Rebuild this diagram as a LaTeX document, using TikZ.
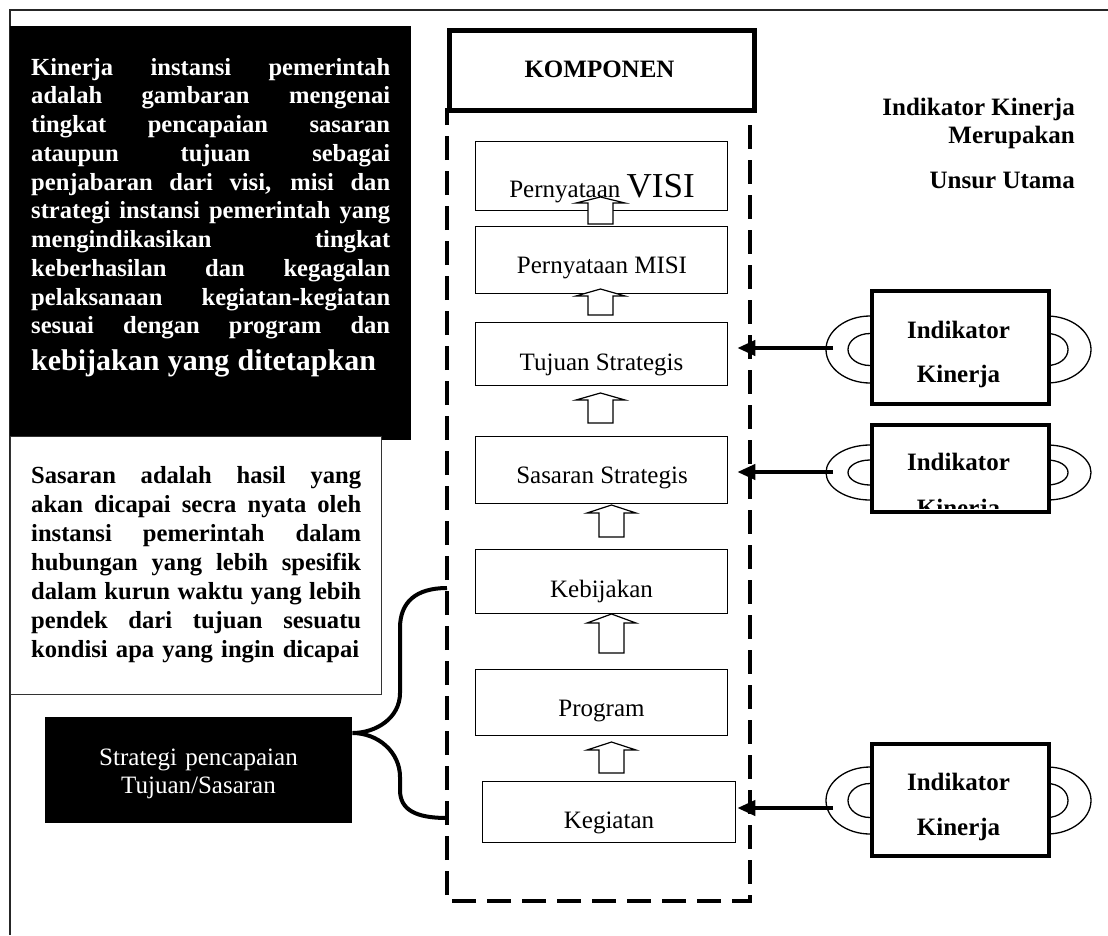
\documentclass[tikz,border=0pt]{standalone}
\usepackage{fontspec}
\setmainfont{Liberation Serif}
\usetikzlibrary{arrows.meta}

% one justified line of a fixed-width paragraph: [width]{words}
\newcommand\jl[2][359pt]{\leavevmode\hbox to #1{\spaceskip=.25em plus 1fil\relax #2}}

% hollow upward block arrow: centre x, tip y, head-base y, bottom y
\newcommand\blockup[4]{%
  \draw[blockarrow] (#1-12.5,#4) -- (#1-12.5,#3) -- (#1-24.5,#3) -- (#1,#2)
    -- (#1+24.5,#3) -- (#1+12.5,#3) -- (#1+12.5,#4) -- cycle;}

% the pair of loop handles on an indicator box:
% left x, right x, centre y, outer half height, inner half height
\newcommand\handlepair[5]{%
  \draw[handle] (#1,#3-#4) .. controls (#1-24,#3-#4) and (#1-44,#3-0.55*#4) .. (#1-44,#3)
     .. controls (#1-44,#3+0.55*#4) and (#1-24,#3+#4) .. (#1,#3+#4);
  \draw[handle] (#1,#3-#5) .. controls (#1-12,#3-#5) and (#1-22,#3-0.55*#5) .. (#1-22,#3)
     .. controls (#1-22,#3+0.55*#5) and (#1-12,#3+#5) .. (#1,#3+#5);
  \draw[handle] (#2,#3-#4) .. controls (#2+24,#3-#4) and (#2+44,#3-0.55*#4) .. (#2+44,#3)
     .. controls (#2+44,#3+0.55*#4) and (#2+24,#3+#4) .. (#2,#3+#4);
  \draw[handle] (#2,#3-#5) .. controls (#2+12,#3-#5) and (#2+21,#3-0.55*#5) .. (#2+21,#3)
     .. controls (#2+21,#3+0.55*#5) and (#2+12,#3+#5) .. (#2,#3+#5);}

\tikzset{
  frameline/.style={line width=1.5pt, draw=black!85},
  boxat/.style={rectangle, inner sep=0pt, anchor=north west},
  compbox/.style={boxat, draw, line width=1.3pt, fill=white},
  indbox/.style={boxat, draw, line width=4pt, fill=white, minimum width=177pt},
  txt/.style={inner sep=0pt, anchor=base, font=\fontsize{25}{28.75}\selectfont},
  btxt/.style={txt, font=\bfseries\fontsize{25}{28.75}\selectfont},
  blockarrow/.style={draw, fill=white, line width=1.2pt, line join=miter},
  handle/.style={draw, line width=1.3pt},
  conn/.style={line width=4pt, -{Triangle[length=18pt,width=15pt]}},
  brace/.style={line width=4pt, line cap=butt},
  dashframe/.style={line width=4.5pt, dash pattern=on 24pt off 11pt}
}

\begin{document}
\begin{tikzpicture}[x=1pt,y=-1pt]
\useasboundingbox (0,0) rectangle (1108,935);
\fill[white] (0,0) rectangle (1108,935);

% page frame
\draw[frameline] (1108,10) -- (10,10) -- (10,935);

% definition of performance (white on black)
\node[boxat, fill=black, minimum width=401pt, minimum height=414pt] (defbox) at (10,26) {};
\node[inner sep=0pt, anchor=base west, text width=359pt, align=left, text=white,
      font=\bfseries\fontsize{24.6}{28.75}\selectfont] (deftext) at (31,75) {%
  \jl{Kinerja instansi pemerintah}\\
  \jl{adalah gambaran mengenai}\\
  \jl{tingkat pencapaian sasaran}\\
  \jl{ataupun tujuan sebagai}\\
  \jl{penjabaran dari visi, misi dan}\\
  \jl{strategi instansi pemerintah yang}\\
  \jl{mengindikasikan tingkat}\\
  \jl{keberhasilan dan kegagalan}\\
  \jl{pelaksanaan kegiatan-kegiatan}\\
  \jl{sesuai dengan program dan}\\[8pt]
  \mbox{\fontsize{30}{36}\selectfont kebijakan yang ditetapkan}};

% definition of targets
\node[boxat, draw=black!80, line width=1.2pt, fill=white, minimum width=371pt, minimum height=258pt] (sasbox) at (10,436) {};
\node[inner sep=0pt, anchor=base west, text width=330pt, align=left,
      font=\bfseries\fontsize{24.6}{29}\selectfont] (sastext) at (31,483) {%
  \jl[330pt]{Sasaran adalah hasil yang}\\
  \jl[330pt]{akan dicapai secra nyata oleh}\\
  \jl[330pt]{instansi pemerintah dalam}\\
  \jl[330pt]{hubungan yang lebih spesifik}\\
  \jl[330pt]{dalam kurun waktu yang lebih}\\
  \jl[330pt]{pendek dari tujuan sesuatu}\\
  \mbox{kondisi apa yang ingin dicapai}};

% strategy box
\node[boxat, fill=black, minimum width=307pt, minimum height=106pt] (stratbox) at (45,717) {};
\node[txt, text=white, text width=300pt, align=center, font=\fontsize{25}{28}\selectfont]
  (strattext) at (198.5,765) {Strategi pencapaian\\Tujuan/Sasaran};

% brace from the strategy box to the policy levels
\coordinate (bTop) at (447,588);
\coordinate (bBot) at (447,818);
\coordinate (bTip) at (stratbox.north east |- 0,733);
\draw[brace] (bTop) .. controls (416,588) and (400,602) .. (400,628) -- (400,693)
  .. controls (400,718) and (376,733) .. (bTip)
  .. controls (378,733) and (400,752) .. (400,777) -- (400,790)
  .. controls (400,810) and (416,818) .. (bBot);

% component column
\node[boxat, draw, line width=5pt, minimum width=305pt, minimum height=80pt] (komp) at (447,28) {};
\node[btxt] (kompT) at (599.5,77) {KOMPONEN};
\draw[dashframe] (750,125) -- (750,901) -- (447,901) -- (447,108);

\node[compbox, minimum width=252pt, minimum height=69pt] (visi) at (475,141) {};
\node[compbox, minimum width=252pt, minimum height=67pt] (misi) at (475,226) {};
\node[compbox, minimum width=252pt, minimum height=63pt] (tujuan) at (475,322) {};
\node[compbox, minimum width=252pt, minimum height=67pt] (sasaran) at (475,436) {};
\node[compbox, minimum width=252pt, minimum height=64pt] (kebijakan) at (475,549) {};
\node[compbox, minimum width=252pt, minimum height=66pt] (program) at (475,669) {};
\node[compbox, minimum width=253pt, minimum height=61pt] (kegiatan) at (482,781) {};

\node[txt] (visiT) at (602,197) {Pernyataan {\fontsize{35}{40}\selectfont VISI}};
\node[txt] (misiT) at (602,273) {Pernyataan MISI};
\node[txt] (tujuanT) at (601.5,370) {Tujuan Strategis};
\node[txt] (sasaranT) at (602,483) {Sasaran Strategis};
\node[txt] (kebijakanT) at (601.5,597) {Kebijakan};
\node[txt] (programT) at (601.5,716) {Program};
\node[txt] (kegiatanT) at (609,828) {Kegiatan};

% upward block arrows between the levels
\blockup{600.5}{197}{203}{224}
\blockup{600.5}{289}{296}{315}
\blockup{600.5}{393}{400}{423}
\blockup{611.5}{505}{513}{537}
\blockup{611.5}{614}{623}{653}
\blockup{611.5}{742}{750}{773}

% heading on the right
\node[btxt, anchor=base east] (ikHead1) at (1075,115) {Indikator Kinerja};
\node[btxt, anchor=base east] (ikHead2) at (1075,143) {Merupakan};
\node[btxt, anchor=base east] (ikHead3) at (1075,188) {Unsur Utama};

% performance indicators with their handles
\handlepair{870}{1047}{349.5}{33.5}{16}
\handlepair{870}{1047}{472.5}{27.5}{12.5}
\handlepair{870}{1047}{800.5}{33.5}{17}

\node[indbox, minimum height=113pt] (indA) at (870,289) {};
\node[btxt] (indA1) at (958.5,338) {Indikator};
\node[btxt] (indA2) at (958.5,382) {Kinerja};

\node[indbox, minimum height=87pt] (indB) at (870,423) {};
\node[btxt] (indB1) at (958.5,470) {Indikator};
\begin{scope}
  \clip (872,425) rectangle (1045,508);
  \node[btxt] (indB2) at (958.5,516) {Kinerja};
\end{scope}

\node[indbox, minimum height=112pt] (indC) at (870,742) {};
\node[btxt] (indC1) at (958.5,790) {Indikator};
\node[btxt] (indC2) at (958.5,835) {Kinerja};

% indicator links into the column
\coordinate (cA) at (833,348);
\coordinate (cB) at (833,472);
\coordinate (cC) at (833,808);
\draw[conn] (cA) -- ([xshift=9pt]cA -| tujuan.east);
\draw[conn] (cB) -- ([xshift=9pt]cB -| sasaran.east);
\draw[conn] (cC) -- ([xshift=1pt]cC -| kegiatan.east);
\end{tikzpicture}
\end{document}
